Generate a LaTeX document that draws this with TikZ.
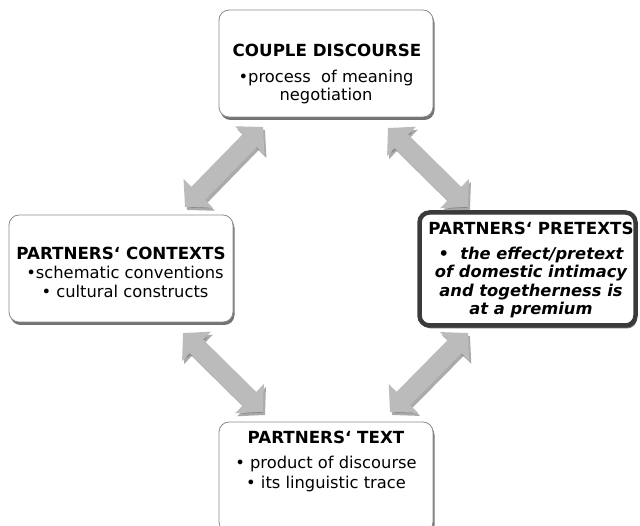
\documentclass[tikz,border=0pt]{standalone}
\usepackage{fontspec}
\setmainfont{DejaVu Sans}
\usetikzlibrary{shadows,arrows.meta}
\definecolor{arrowgray}{HTML}{BBBBBB}
\definecolor{shadowgray}{HTML}{555555}
\definecolor{boxline}{HTML}{8C8C8C}
\definecolor{thickline}{HTML}{3A3A3A}
\tikzset{
  box/.style={draw=boxline, line width=0.8pt, fill=white, rounded corners=10pt,
    drop shadow={shadow xshift=1.5pt, shadow yshift=-3pt, opacity=0.55, fill=black}},
  boxthick/.style={box, draw=thickline, line width=4.5pt},
  ttl/.style={anchor=base, inner sep=0pt, font=\fontsize{16.7}{18}\selectfont\bfseries},
  txt/.style={anchor=base, inner sep=0pt, font=\fontsize{16.3}{18}\selectfont},
  txtbi/.style={anchor=base, inner sep=0pt, font=\fontsize{16.3}{18}\selectfont\bfseries\itshape},
  dbl/.style={line width=19pt, arrowgray, {Triangle[length=19pt,width=40pt]}-{Triangle[length=19pt,width=40pt]}},
  dblshadow/.style={line width=19pt, shadowgray, opacity=0.5, {Triangle[length=19pt,width=40pt]}-{Triangle[length=19pt,width=40pt]}}
}
\begin{document}
\begin{tikzpicture}[x=1pt,y=-1pt]
\useasboundingbox (0,0) rectangle (640,526);
% boxes
\node[box, minimum width=214pt, minimum height=107pt] (top) at (326,63.5) {};
\node[box, minimum width=224pt, minimum height=107pt] (left) at (121,268.5) {};
\node[boxthick, minimum width=216pt, minimum height=113pt] (right) at (527.5,269) {};
\node[box, minimum width=214pt, minimum height=110pt] (bottom) at (326,477) {};
% texts
\node[ttl] (t1) at (327,57) {COUPLE DISCOURSE};
\node[txt] (t2) at (326,83) {•process\ \ of meaning};
\node[txt] (t3) at (326,101) {negotiation};
\node[ttl] (l1) at (121,260) {PARTNERS‘ CONTEXTS};
\node[txt] (l2) at (125,279) {•schematic conventions};
\node[txt] (l3) at (125,298) {• cultural constructs};
\node[ttl] (r1) at (531,235) {PARTNERS‘ PRETEXTS};
\node[txtbi] (r2) at (531,260) {•\ \ the effect/pretext};
\node[txtbi] (r3) at (531,278) {of domestic intimacy};
\node[txtbi] (r4) at (531,297) {and togetherness is};
\node[txtbi] (r5) at (531,315) {at a premium};
\node[ttl] (b1) at (326,443) {PARTNERS‘ TEXT};
\node[txt] (b2) at (326,468) {• product of discourse};
\node[txt] (b3) at (326,488) {• its linguistic trace};
% arrow end points
\coordinate (a1s) at (185,207); \coordinate (a1e) at (263,127);
\coordinate (a2s) at (388,128); \coordinate (a2e) at (468,207);
\coordinate (a3s) at (183,333); \coordinate (a3e) at (263,412);
\coordinate (a4s) at (468,333); \coordinate (a4e) at (390,412);
\foreach \s/\e in {a1s/a1e,a2s/a2e,a3s/a3e,a4s/a4e}{
  \draw[dblshadow] ([shift={(2,3)}]\s) -- ([shift={(2,3)}]\e);
  \draw[dbl] (\s) -- (\e);
}
\end{tikzpicture}
\end{document}
